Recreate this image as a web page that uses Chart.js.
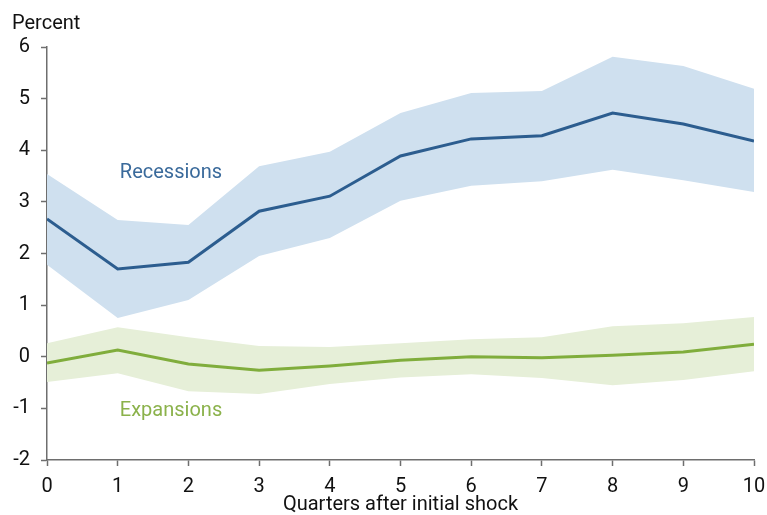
<!DOCTYPE html>
<html>
<head>
<meta charset="utf-8">
<script src="https://cdn.jsdelivr.net/npm/chart.js@4/dist/chart.umd.min.js"></script>
<style>
  html, body { margin: 0; padding: 0; background: #fff; }
  #wrap { width: 767px; height: 515px; position: relative; }
</style>
</head>
<body>
<div id="wrap"><canvas id="c" width="767" height="515"></canvas></div>
<script>
// Quarters after the initial shock
const quarters = [0, 1, 2, 3, 4, 5, 6, 7, 8, 9, 10];

// Response during recessions (percent) with confidence band
const recessionMid   = [2.67, 1.70, 1.83, 2.82, 3.11, 3.89, 4.22, 4.28, 4.72, 4.51, 4.18];
const recessionUpper = [3.54, 2.65, 2.55, 3.69, 3.97, 4.72, 5.11, 5.15, 5.81, 5.63, 5.19];
const recessionLower = [1.78, 0.75, 1.10, 1.95, 2.30, 3.02, 3.31, 3.40, 3.62, 3.42, 3.19];

// Response during expansions (percent) with confidence band
const expansionMid   = [-0.12, 0.13, -0.14, -0.26, -0.18, -0.07, 0.00, -0.02, 0.03, 0.09, 0.24];
const expansionUpper = [0.26, 0.57, 0.38, 0.21, 0.19, 0.26, 0.34, 0.38, 0.59, 0.65, 0.77];
const expansionLower = [-0.49, -0.32, -0.67, -0.72, -0.53, -0.40, -0.34, -0.41, -0.55, -0.45, -0.28];

const yTicks = [-2, -1, 0, 1, 2, 3, 4, 5, 6];

const toXY = arr => arr.map((v, i) => ({ x: quarters[i], y: v }));

const FONT = 'Roboto, "Liberation Sans", sans-serif';
const BLUE = '#2c5d8f';
const BLUE_BAND = '#cfe0ef';
const GREEN = '#80ad3c';
const GREEN_BAND = '#e6efd8';
const AXIS = '#6e6e6e';

// Series names and the "Percent" unit written inside the chart
const annotations = {
  id: 'annotations',
  afterDatasetsDraw(chart) {
    const { ctx, scales: { x, y } } = chart;
    ctx.save();
    ctx.font = '20px ' + FONT;
    ctx.textBaseline = 'middle';
    ctx.textAlign = 'left';
    ctx.fillStyle = '#3a6a9b';
    ctx.fillText('Recessions', x.getPixelForValue(1.03), y.getPixelForValue(3.55));
    ctx.fillStyle = '#8bb24b';
    ctx.fillText('Expansions', x.getPixelForValue(1.03), y.getPixelForValue(-1.05));
    ctx.fillStyle = '#111';
    ctx.fillText('Percent', 12, 24);
    ctx.restore();
  }
};

new Chart(document.getElementById('c'), {
  type: 'line',
  data: {
    datasets: [
      { data: toXY(recessionMid), borderColor: BLUE, borderWidth: 3, pointRadius: 0, fill: false, tension: 0, order: 0 },
      { data: toXY(expansionMid), borderColor: GREEN, borderWidth: 3, pointRadius: 0, fill: false, tension: 0, order: 0 },
      { data: toXY(recessionUpper), borderWidth: 0, borderColor: 'transparent', backgroundColor: BLUE_BAND, pointRadius: 0, fill: '+1', tension: 0, order: 1 },
      { data: toXY(recessionLower), borderWidth: 0, borderColor: 'transparent', pointRadius: 0, fill: false, tension: 0, order: 1 },
      { data: toXY(expansionUpper), borderWidth: 0, borderColor: 'transparent', backgroundColor: GREEN_BAND, pointRadius: 0, fill: '+1', tension: 0, order: 1 },
      { data: toXY(expansionLower), borderWidth: 0, borderColor: 'transparent', pointRadius: 0, fill: false, tension: 0, order: 1 }
    ]
  },
  options: {
    responsive: false,
    animation: false,
    events: [],
    layout: { padding: { top: 47, right: 13, left: 0, bottom: 0 } },
    plugins: { legend: { display: false }, tooltip: { enabled: false } },
    scales: {
      x: {
        type: 'linear',
        min: quarters[0],
        max: quarters[quarters.length - 1],
        afterBuildTicks: s => { s.ticks = quarters.map(v => ({ value: v })); },
        afterFit: s => { s.height = 55; s.paddingLeft = 0; s.paddingRight = 0; },
        border: { color: AXIS, width: 1.5 },
        grid: { drawOnChartArea: false, tickLength: 6, color: AXIS, tickWidth: 1.5 },
        ticks: { color: '#111', font: { family: FONT, size: 20 }, padding: 9, maxRotation: 0 },
        title: { display: true, text: 'Quarters after initial shock', color: '#111', font: { family: FONT, size: 20, lineHeight: 1.0 }, padding: { top: 0, bottom: 0 } }
      },
      y: {
        min: yTicks[0],
        max: yTicks[yTicks.length - 1],
        afterBuildTicks: s => { s.ticks = yTicks.map(v => ({ value: v })); },
        afterFit: s => { s.width = 47; s.paddingTop = 0; s.paddingBottom = 0; },
        border: { color: AXIS, width: 1.5 },
        grid: { drawOnChartArea: false, tickLength: 6, color: AXIS, tickWidth: 1.5 },
        ticks: { color: '#111', font: { family: FONT, size: 20 }, padding: 11 }
      }
    }
  },
  plugins: [annotations]
});
</script>
</body>
</html>
